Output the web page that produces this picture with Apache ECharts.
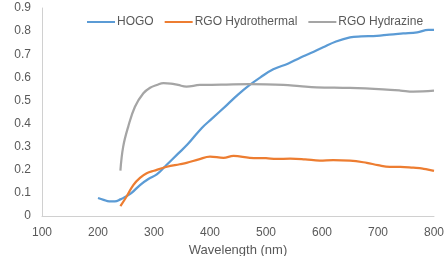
<!DOCTYPE html>
<html><head><meta charset="utf-8">
<script src="https://cdn.jsdelivr.net/npm/echarts@6/dist/echarts.min.js"></script>
<style>html,body{margin:0;padding:0;background:#fff}#c{width:445px;height:256px}</style>
</head><body><div id="c"></div>
<script>
const hogoX = [200,210,220,230,240,250,260,275,290,305,320,343,360,385,403,430,450,471,490,513,540,561,580,602,625,650,670,698,720,745,770,790,800];
const hogoY = [0.078,0.07,0.063,0.063,0.072,0.085,0.10,0.134,0.16,0.18,0.215,0.27,0.31,0.38,0.42,0.48,0.525,0.567,0.60,0.635,0.66,0.685,0.705,0.73,0.755,0.773,0.777,0.779,0.785,0.79,0.795,0.805,0.805];
const hydrothermalX = [240,250,263,275,287,300,323,346,358,380,400,424,442,471,500,519,543,570,596,620,650,680,700,721,740,763,780,800];
const hydrothermalY = [0.043,0.08,0.134,0.165,0.185,0.196,0.213,0.224,0.23,0.245,0.257,0.252,0.26,0.252,0.25,0.247,0.248,0.245,0.24,0.242,0.24,0.23,0.22,0.213,0.213,0.209,0.205,0.195];
const hydrazineX = [240,245,254,266,281,293,305,317,330,343,358,382,420,471,500,531,560,590,650,709,740,763,800];
const hydrazineY = [0.196,0.30,0.387,0.473,0.531,0.555,0.567,0.575,0.573,0.567,0.56,0.567,0.568,0.571,0.57,0.567,0.562,0.557,0.554,0.548,0.543,0.538,0.542];
const seriesNames = ['HOGO','RGO Hydrothermal','RGO Hydrazine'];
const colors = ['#5B9BD5','#ED7D31','#A5A5A5'];
const zip = (xs, ys) => xs.map((x, i) => [x, ys[i]]);
const datasets = [zip(hogoX, hogoY), zip(hydrothermalX, hydrothermalY), zip(hydrazineX, hydrazineY)];
const font = 'Liberation Sans';
const chart = echarts.init(document.getElementById('c'), null, {renderer: 'canvas'});
chart.setOption({
  animation: false,
  color: colors,
  textStyle: {fontFamily: font},
  legend: {
    top: 16, left: 87, padding: 0, itemWidth: 28, itemHeight: 2, itemGap: 11,
    icon: 'rect',
    textStyle: {fontFamily: font, fontSize: 12, color: '#595959', padding: [0,0,0,-3]},
    data: seriesNames
  },
  grid: {left: 42, right: 11, top: 8, bottom: 40, containLabel: false, outerBoundsMode: 'none'},
  xAxis: {
    type: 'value', min: 100, max: 800, interval: 100,
    name: 'Wavelength (nm)', nameLocation: 'middle', nameGap: 25,
    nameTextStyle: {fontFamily: font, fontSize: 13, color: '#595959'},
    axisLine: {show: true, lineStyle: {color: '#D0D0D0', width: 1}},
    axisTick: {show: false},
    splitLine: {show: false},
    axisLabel: {fontFamily: font, fontSize: 12, color: '#595959', margin: 11}
  },
  yAxis: {
    type: 'value', min: 0, max: 0.9, interval: 0.1,
    name: 'Transmittance', nameLocation: 'middle', nameGap: 28,
    nameTextStyle: {fontFamily: font, fontSize: 13, color: '#595959'},
    axisLine: {show: true, lineStyle: {color: '#D0D0D0', width: 1}},
    axisTick: {show: false},
    splitLine: {show: false},
    axisLabel: {fontFamily: font, fontSize: 12, color: '#595959', margin: 11, formatter: v => String(Math.round(v*10)/10)}
  },
  series: datasets.map((d, i) => ({
    name: seriesNames[i], type: 'line', data: d, smooth: 0.4,
    showSymbol: false, symbol: 'none',
    lineStyle: {width: 2.25, color: colors[i]}
  }))
});
</script></body></html>
